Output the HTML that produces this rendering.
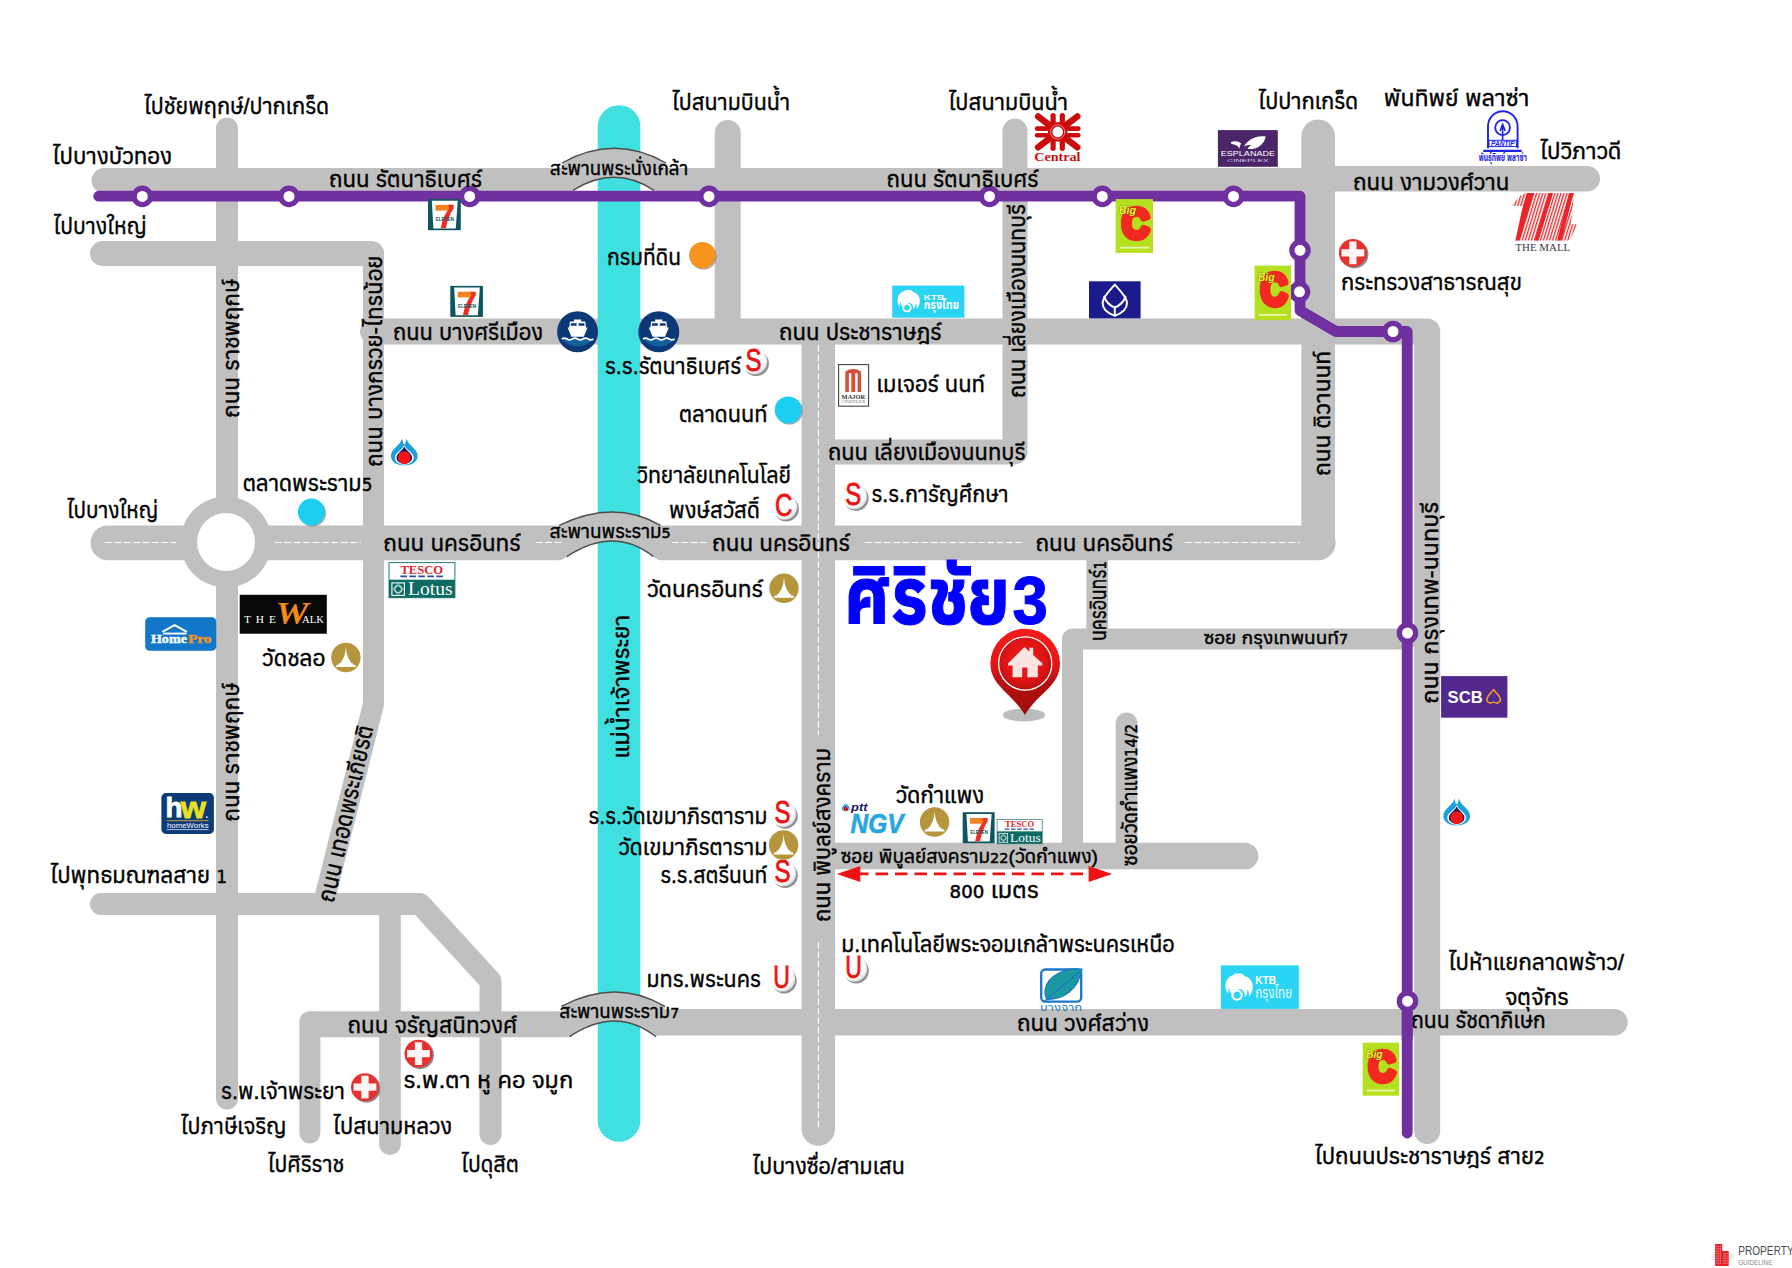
<!DOCTYPE html>
<html lang="th"><head><meta charset="utf-8"><title>ศิริชัย3 map</title>
<style>
html,body{margin:0;padding:0;background:#fff}
svg{display:block}
.t{font-family:"Liberation Sans","Anuphan","Kanit","Prompt","Noto Sans Thai","Loma",sans-serif;}
</style></head><body>
<svg width="1792" height="1268" viewBox="0 0 1792 1268">
<rect width="1792" height="1268" fill="#fff"/>
<g id="roads">
<path d="M104,180.5 H1318" fill="none" stroke="#c0c0c0" stroke-width="25" stroke-linecap="round" stroke-linejoin="round" />
<path d="M1318,178.8 H1587.2" fill="none" stroke="#c0c0c0" stroke-width="25.6" stroke-linecap="round" stroke-linejoin="round" />
<path d="M102.5,253.5 H371.5" fill="none" stroke="#c0c0c0" stroke-width="25" stroke-linecap="round" stroke-linejoin="round" />
<path d="M373.5,253 V704 L326,893" fill="none" stroke="#c0c0c0" stroke-width="21" stroke-linecap="round" stroke-linejoin="round" />
<path d="M227,128.5 V1098.5" fill="none" stroke="#c0c0c0" stroke-width="22" stroke-linecap="round" stroke-linejoin="round" />
<path d="M373,331.5 H1427.2 V1131" fill="none" stroke="#c0c0c0" stroke-width="26" stroke-linecap="round" stroke-linejoin="round" />
<path d="M727.7,133 V331" fill="none" stroke="#c0c0c0" stroke-width="26" stroke-linecap="round" stroke-linejoin="round" />
<path d="M818.3,340 V1129" fill="none" stroke="#c0c0c0" stroke-width="33.4" stroke-linecap="round" stroke-linejoin="round" />
<path d="M1015,131 V452 H835" fill="none" stroke="#c0c0c0" stroke-width="25" stroke-linecap="round" stroke-linejoin="round" />
<path d="M1318.2,136.3 V542.8" fill="none" stroke="#c0c0c0" stroke-width="33.6" stroke-linecap="round" stroke-linejoin="round" />
<path d="M107.9,542.8 H1318.2" fill="none" stroke="#c0c0c0" stroke-width="34.8" stroke-linecap="round" stroke-linejoin="round" />
<circle cx="226" cy="542" r="45.5" fill="#c0c0c0"/>
<circle cx="226" cy="542" r="29" fill="#fff"/>
<path d="M101,904 H420 L490.5,981 V1134" fill="none" stroke="#c0c0c0" stroke-width="22" stroke-linecap="round" stroke-linejoin="round" />
<path d="M390,904 V1144" fill="none" stroke="#c0c0c0" stroke-width="21.6" stroke-linecap="round" stroke-linejoin="round" />
<path d="M309.9,1021.7 V1133" fill="none" stroke="#c0c0c0" stroke-width="21" stroke-linecap="round" stroke-linejoin="round" />
<path d="M309.9,1024.2 H620" fill="none" stroke="#c0c0c0" stroke-width="26" stroke-linecap="butt" stroke-linejoin="round" />
<path d="M615,1022.2 H1614.5" fill="none" stroke="#c0c0c0" stroke-width="26.4" stroke-linecap="butt" stroke-linejoin="round" />
<circle cx="1614.5" cy="1022.2" r="13.2" fill="#c0c0c0"/>
<path d="M1407,639 H1072.5 V856" fill="none" stroke="#c0c0c0" stroke-width="21" stroke-linecap="round" stroke-linejoin="round" />
<path d="M835,856 H1245" fill="none" stroke="#c0c0c0" stroke-width="26.6" stroke-linecap="round" stroke-linejoin="round" />
<path d="M1126.6,723.5 V856" fill="none" stroke="#c0c0c0" stroke-width="21.8" stroke-linecap="round" stroke-linejoin="round" />
<path d="M1097.2,555 V635" fill="none" stroke="#c0c0c0" stroke-width="21.7" stroke-linecap="butt" stroke-linejoin="round" />
</g>
<g stroke="#fff" stroke-width="1.1" stroke-dasharray="6.7 2.7" fill="none">
<path d="M105,542.5 H176"/>
<path d="M275,542.5 H361"/>
<path d="M536,542.5 H562"/>
<path d="M672,542.5 H707"/>
<path d="M865,542.5 H1024"/>
<path d="M1185,542.5 H1300"/>
<path d="M818.4,345 V735"/>
<path d="M818.4,942 V1128"/>
</g>
<path d="M561,194 Q569,193.5 573,190.3 Q614.5,164.3 654,190.3 Q658,193.5 666,194 Z" fill="#fff"/>
<path d="M554.8,561.2 Q562.8,560.7 566.8,556.6 Q614.1,525.4 653.4,556.6 Q657.4,560.7 665.4,561.2 Z" fill="#fff"/>
<path d="M557.5,1037.7 Q565.5,1037.2 569.5,1036.7 Q615.9,1005.3 656,1036.7 Q660,1037.2 668,1037.7 Z" fill="#fff"/>
<path d="M619,126.5 V1120.5" fill="none" stroke="#40dfe0" stroke-width="42.6" stroke-linecap="round" stroke-linejoin="round" />
<path d="M562,163 Q614.5,133.60000000000002 666,163 L654,190.3 Q614.5,164.3 573,190.3 Z" fill="#c0c0c0"/>
<path d="M562,163 Q614.5,133.60000000000002 666,163" fill="none" stroke="#4d4d4d" stroke-width="1.4"/>
<path d="M573,190.3 Q614.5,164.3 654,190.3" fill="none" stroke="#4d4d4d" stroke-width="1.4"/>
<path d="M559.2,525.4 Q614.1,498.6 660.5,525.4 L653.4,556.6 Q614.1,525.4 566.8,556.6 Z" fill="#c0c0c0"/>
<path d="M559.2,525.4 Q614.1,498.6 660.5,525.4" fill="none" stroke="#4d4d4d" stroke-width="1.4"/>
<path d="M566.8,556.6 Q614.1,525.4 653.4,556.6" fill="none" stroke="#4d4d4d" stroke-width="1.4"/>
<path d="M561.4,1006.4 Q615.9,977.6 665,1006.4 L656,1036.7 Q615.9,1005.3 569.5,1036.7 Z" fill="#c0c0c0"/>
<path d="M561.4,1006.4 Q615.9,977.6 665,1006.4" fill="none" stroke="#4d4d4d" stroke-width="1.4"/>
<path d="M569.5,1036.7 Q615.9,1005.3 656,1036.7" fill="none" stroke="#4d4d4d" stroke-width="1.4"/>
<path d="M98.7,196.2 H1300 V310.5 L1336,331.5 H1407.2 V1133" fill="none" stroke="#7030a0" stroke-width="10.8" stroke-linecap="round" stroke-linejoin="round" />
<circle cx="142.3" cy="196.4" r="8.15" fill="#fff" stroke="#7030a0" stroke-width="5.3"/>
<circle cx="289" cy="196.4" r="8.15" fill="#fff" stroke="#7030a0" stroke-width="5.3"/>
<circle cx="469.7" cy="196.4" r="8.15" fill="#fff" stroke="#7030a0" stroke-width="5.3"/>
<circle cx="709" cy="196.4" r="8.15" fill="#fff" stroke="#7030a0" stroke-width="5.3"/>
<circle cx="989.5" cy="196.4" r="8.15" fill="#fff" stroke="#7030a0" stroke-width="5.3"/>
<circle cx="1102.3" cy="196.4" r="8.15" fill="#fff" stroke="#7030a0" stroke-width="5.3"/>
<circle cx="1233.5" cy="196.4" r="8.15" fill="#fff" stroke="#7030a0" stroke-width="5.3"/>
<circle cx="1300" cy="250.3" r="8.15" fill="#fff" stroke="#7030a0" stroke-width="5.3"/>
<circle cx="1299.5" cy="291.8" r="8.15" fill="#fff" stroke="#7030a0" stroke-width="5.3"/>
<circle cx="1393" cy="331.5" r="8.15" fill="#fff" stroke="#7030a0" stroke-width="5.3"/>
<circle cx="1407.5" cy="633" r="8.15" fill="#fff" stroke="#7030a0" stroke-width="5.3"/>
<circle cx="1407.5" cy="1001.2" r="8.15" fill="#fff" stroke="#7030a0" stroke-width="5.3"/>
<g id="labels">
<text class="t" x="144" y="113.5" font-size="22.9" fill="#000" font-weight="400" textLength="185" lengthAdjust="spacingAndGlyphs" stroke="#000" stroke-width=".5">ไปชัยพฤกษ์/ปากเกร็ด</text>
<text class="t" x="52.5" y="163.5" font-size="22.9" fill="#000" font-weight="400" textLength="119.5" lengthAdjust="spacingAndGlyphs" stroke="#000" stroke-width=".5">ไปบางบัวทอง</text>
<text class="t" x="53.5" y="234" font-size="22.9" fill="#000" font-weight="400" textLength="93" lengthAdjust="spacingAndGlyphs" stroke="#000" stroke-width=".5">ไปบางใหญ่</text>
<text class="t" x="329" y="187.3" font-size="22.9" fill="#000" font-weight="400" textLength="153" lengthAdjust="spacingAndGlyphs" stroke="#000" stroke-width=".5">ถนน รัตนาธิเบศร์</text>
<text class="t" x="393" y="339.5" font-size="22.9" fill="#000" font-weight="400" textLength="150" lengthAdjust="spacingAndGlyphs" stroke="#000" stroke-width=".5">ถนน บางศรีเมือง</text>
<text class="t" x="672" y="109.5" font-size="22.9" fill="#000" font-weight="400" textLength="118" lengthAdjust="spacingAndGlyphs" stroke="#000" stroke-width=".5">ไปสนามบินน้ำ</text>
<text class="t" x="948.5" y="109.5" font-size="22.9" fill="#000" font-weight="400" textLength="119.5" lengthAdjust="spacingAndGlyphs" stroke="#000" stroke-width=".5">ไปสนามบินน้ำ</text>
<text class="t" x="886.5" y="187.3" font-size="22.9" fill="#000" font-weight="400" textLength="152" lengthAdjust="spacingAndGlyphs" stroke="#000" stroke-width=".5">ถนน รัตนาธิเบศร์</text>
<text class="t" x="607" y="265" font-size="22.9" fill="#000" font-weight="400" textLength="74" lengthAdjust="spacingAndGlyphs" stroke="#000" stroke-width=".5">กรมที่ดิน</text>
<text class="t" x="779" y="339.5" font-size="22.9" fill="#000" font-weight="400" textLength="162.5" lengthAdjust="spacingAndGlyphs" stroke="#000" stroke-width=".5">ถนน ประชาราษฎร์</text>
<text class="t" x="605" y="374" font-size="22.9" fill="#000" font-weight="400" textLength="136" lengthAdjust="spacingAndGlyphs" stroke="#000" stroke-width=".5">ร.ร.รัตนาธิเบศร์</text>
<text class="t" x="876.5" y="391.5" font-size="22.9" fill="#000" font-weight="400" textLength="108.5" lengthAdjust="spacingAndGlyphs" stroke="#000" stroke-width=".5">เมเจอร์ นนท์</text>
<text class="t" x="679" y="421.5" font-size="22.9" fill="#000" font-weight="400" textLength="88.5" lengthAdjust="spacingAndGlyphs" stroke="#000" stroke-width=".5">ตลาดนนท์</text>
<text class="t" x="828" y="460" font-size="22.9" fill="#000" font-weight="400" textLength="197.5" lengthAdjust="spacingAndGlyphs" stroke="#000" stroke-width=".5">ถนน เลี่ยงเมืองนนทบุรี</text>
<text class="t" x="637" y="483" font-size="22.9" fill="#000" font-weight="400" textLength="154" lengthAdjust="spacingAndGlyphs" stroke="#000" stroke-width=".5">วิทยาลัยเทคโนโลยี</text>
<text class="t" x="669" y="517.5" font-size="22.9" fill="#000" font-weight="400" textLength="91" lengthAdjust="spacingAndGlyphs" stroke="#000" stroke-width=".5">พงษ์สวัสดิ์</text>
<text class="t" x="871.5" y="502" font-size="22.9" fill="#000" font-weight="400" textLength="137" lengthAdjust="spacingAndGlyphs" stroke="#000" stroke-width=".5">ร.ร.การัญศึกษา</text>
<text class="t" x="712" y="551.2" font-size="22.9" fill="#000" font-weight="400" textLength="138" lengthAdjust="spacingAndGlyphs" stroke="#000" stroke-width=".5">ถนน นครอินทร์</text>
<text class="t" x="383.3" y="551.2" font-size="22.9" fill="#000" font-weight="400" textLength="137.3" lengthAdjust="spacingAndGlyphs" stroke="#000" stroke-width=".5">ถนน นครอินทร์</text>
<text class="t" x="1035.4" y="551.2" font-size="22.9" fill="#000" font-weight="400" textLength="137.4" lengthAdjust="spacingAndGlyphs" stroke="#000" stroke-width=".5">ถนน นครอินทร์</text>
<text class="t" x="647" y="597.2" font-size="22.9" fill="#000" font-weight="400" textLength="116" lengthAdjust="spacingAndGlyphs" stroke="#000" stroke-width=".5">วัดนครอินทร์</text>
<text class="t" x="895.8" y="802.7" font-size="22.9" fill="#000" font-weight="400" textLength="88.4" lengthAdjust="spacingAndGlyphs" stroke="#000" stroke-width=".5">วัดกำแพง</text>
<text class="t" x="588.5" y="824.3" font-size="22.9" fill="#000" font-weight="400" textLength="179" lengthAdjust="spacingAndGlyphs" stroke="#000" stroke-width=".5">ร.ร.วัดเขมาภิรตาราม</text>
<text class="t" x="618.6" y="855.2" font-size="22.9" fill="#000" font-weight="400" textLength="149" lengthAdjust="spacingAndGlyphs" stroke="#000" stroke-width=".5">วัดเขมาภิรตาราม</text>
<text class="t" x="660.4" y="883" font-size="22.9" fill="#000" font-weight="400" textLength="107" lengthAdjust="spacingAndGlyphs" stroke="#000" stroke-width=".5">ร.ร.สตรีนนท์</text>
<text class="t" x="949.6" y="897.5" font-size="22.9" fill="#000" font-weight="400" textLength="89.3" lengthAdjust="spacingAndGlyphs" stroke="#000" stroke-width=".5"><tspan font-family="DejaVu Sans,sans-serif" font-size="0.76em">800</tspan> เมตร</text>
<text class="t" x="841.2" y="952.2" font-size="22.9" fill="#000" font-weight="400" textLength="333.4" lengthAdjust="spacingAndGlyphs" stroke="#000" stroke-width=".5">ม.เทคโนโลยีพระจอมเกล้าพระนครเหนือ</text>
<text class="t" x="646.4" y="986.7" font-size="22.9" fill="#000" font-weight="400" textLength="114.5" lengthAdjust="spacingAndGlyphs" stroke="#000" stroke-width=".5">มทร.พระนคร</text>
<text class="t" x="1017" y="1030.8" font-size="22.9" fill="#000" font-weight="400" textLength="132" lengthAdjust="spacingAndGlyphs" stroke="#000" stroke-width=".5">ถนน วงศ์สว่าง</text>
<text class="t" x="752.5" y="1174.2" font-size="22.9" fill="#000" font-weight="400" textLength="152.3" lengthAdjust="spacingAndGlyphs" stroke="#000" stroke-width=".5">ไปบางซื่อ/สามเสน</text>
<text class="t" x="1258.3" y="109" font-size="22.9" fill="#000" font-weight="400" textLength="100" lengthAdjust="spacingAndGlyphs" stroke="#000" stroke-width=".5">ไปปากเกร็ด</text>
<text class="t" x="1383.8" y="105.5" font-size="22.9" fill="#000" font-weight="400" textLength="145.6" lengthAdjust="spacingAndGlyphs" stroke="#000" stroke-width=".5">พันทิพย์ พลาซ่า</text>
<text class="t" x="1540" y="159.3" font-size="22.9" fill="#000" font-weight="400" textLength="81.4" lengthAdjust="spacingAndGlyphs" stroke="#000" stroke-width=".5">ไปวิภาวดี</text>
<text class="t" x="1353" y="190.3" font-size="22.9" fill="#000" font-weight="400" textLength="156.4" lengthAdjust="spacingAndGlyphs" stroke="#000" stroke-width=".5">ถนน งามวงศ์วาน</text>
<text class="t" x="1341" y="289.8" font-size="22.9" fill="#000" font-weight="400" textLength="181" lengthAdjust="spacingAndGlyphs" stroke="#000" stroke-width=".5">กระทรวงสาธารณสุข</text>
<text class="t" x="1448.6" y="970" font-size="22.9" fill="#000" font-weight="400" textLength="175.4" lengthAdjust="spacingAndGlyphs" stroke="#000" stroke-width=".5">ไปห้าแยกลาดพร้าว/</text>
<text class="t" x="1505" y="1005" font-size="22.9" fill="#000" font-weight="400" textLength="63.7" lengthAdjust="spacingAndGlyphs" stroke="#000" stroke-width=".5">จตุจักร</text>
<text class="t" x="1411" y="1028" font-size="22.9" fill="#000" font-weight="400" textLength="134.7" lengthAdjust="spacingAndGlyphs" stroke="#000" stroke-width=".5">ถนน รัชดาภิเษก</text>
<text class="t" x="1314.7" y="1164" font-size="22.9" fill="#000" font-weight="400" textLength="230" lengthAdjust="spacingAndGlyphs" stroke="#000" stroke-width=".5">ไปถนนประชาราษฎร์ สาย<tspan font-family="DejaVu Sans,sans-serif" font-size="0.76em">2</tspan></text>
<text class="t" x="50.2" y="883" font-size="22.9" fill="#000" font-weight="400" textLength="176.8" lengthAdjust="spacingAndGlyphs" stroke="#000" stroke-width=".5">ไปพุทธมณฑลสาย <tspan font-family="DejaVu Sans,sans-serif" font-size="0.76em">1</tspan></text>
<text class="t" x="347.5" y="1032.6" font-size="22.9" fill="#000" font-weight="400" textLength="169.7" lengthAdjust="spacingAndGlyphs" stroke="#000" stroke-width=".5">ถนน จรัญสนิทวงศ์</text>
<text class="t" x="221" y="1098.5" font-size="22.9" fill="#000" font-weight="400" textLength="123.8" lengthAdjust="spacingAndGlyphs" stroke="#000" stroke-width=".5">ร.พ.เจ้าพระยา</text>
<text class="t" x="403.4" y="1087.8" font-size="22.9" fill="#000" font-weight="400" textLength="169.8" lengthAdjust="spacingAndGlyphs" stroke="#000" stroke-width=".5">ร.พ.ตา หู คอ จมูก</text>
<text class="t" x="180.8" y="1134" font-size="22.9" fill="#000" font-weight="400" textLength="105.4" lengthAdjust="spacingAndGlyphs" stroke="#000" stroke-width=".5">ไปภาษีเจริญ</text>
<text class="t" x="333.1" y="1134" font-size="22.9" fill="#000" font-weight="400" textLength="119" lengthAdjust="spacingAndGlyphs" stroke="#000" stroke-width=".5">ไปสนามหลวง</text>
<text class="t" x="267.8" y="1172.2" font-size="22.9" fill="#000" font-weight="400" textLength="76.4" lengthAdjust="spacingAndGlyphs" stroke="#000" stroke-width=".5">ไปศิริราช</text>
<text class="t" x="461.3" y="1172.2" font-size="22.9" fill="#000" font-weight="400" textLength="57.6" lengthAdjust="spacingAndGlyphs" stroke="#000" stroke-width=".5">ไปดุสิต</text>
<text class="t" x="242.7" y="491.2" font-size="22.9" fill="#000" font-weight="400" textLength="129.6" lengthAdjust="spacingAndGlyphs" stroke="#000" stroke-width=".5">ตลาดพระราม<tspan font-family="DejaVu Sans,sans-serif" font-size="0.76em">5</tspan></text>
<text class="t" x="67" y="518.3" font-size="22.9" fill="#000" font-weight="400" textLength="91" lengthAdjust="spacingAndGlyphs" stroke="#000" stroke-width=".5">ไปบางใหญ่</text>
<text class="t" x="262.1" y="666" font-size="22.9" fill="#000" font-weight="400" textLength="63.3" lengthAdjust="spacingAndGlyphs" stroke="#000" stroke-width=".5">วัดชลอ</text>
<text class="t" x="549.8" y="174.6" font-size="19.3" fill="#000" font-weight="400" textLength="138.4" lengthAdjust="spacingAndGlyphs" stroke="#000" stroke-width=".5">สะพานพระนั่งเกล้า</text>
<text class="t" x="549.4" y="538.3" font-size="19.3" fill="#000" font-weight="400" textLength="121.4" lengthAdjust="spacingAndGlyphs" stroke="#000" stroke-width=".5">สะพานพระราม<tspan font-family="DejaVu Sans,sans-serif" font-size="0.76em">5</tspan></text>
<text class="t" x="559.2" y="1018.4" font-size="19.3" fill="#000" font-weight="400" textLength="120.1" lengthAdjust="spacingAndGlyphs" stroke="#000" stroke-width=".5">สะพานพระราม<tspan font-family="DejaVu Sans,sans-serif" font-size="0.76em">7</tspan></text>
<text class="t" x="840.7" y="863.2" font-size="18.5" fill="#000" font-weight="400" textLength="257.2" lengthAdjust="spacingAndGlyphs" stroke="#000" stroke-width=".5">ซอย พิบูลย์สงคราม<tspan font-family="DejaVu Sans,sans-serif" font-size="0.76em">22</tspan>(วัดกำแพง)</text>
<text class="t" x="1203.7" y="643.8" font-size="17.5" fill="#000" font-weight="400" textLength="144.5" lengthAdjust="spacingAndGlyphs" stroke="#000" stroke-width=".5">ซอย กรุงเทพนนท์<tspan font-family="DejaVu Sans,sans-serif" font-size="0.76em">7</tspan></text>
<text class="t" transform="translate(239,418) rotate(-90)" font-size="22.9" fill="#000" font-weight="400" textLength="139" lengthAdjust="spacingAndGlyphs" stroke="#000" stroke-width=".5">ถนน ราชพฤกษ์</text>
<text class="t" transform="translate(381.5,467) rotate(-90)" font-size="22.9" fill="#000" font-weight="400" textLength="211.5" lengthAdjust="spacingAndGlyphs" stroke="#000" stroke-width=".5">ถนน บางกรวย-ไทรน้อย</text>
<text class="t" transform="translate(1025.4,398) rotate(-90)" font-size="22.9" fill="#000" font-weight="400" textLength="194" lengthAdjust="spacingAndGlyphs" stroke="#000" stroke-width=".5">ถนน เลี่ยงเมืองนนทบุรี</text>
<text class="t" transform="translate(1105.6,641) rotate(-90)" font-size="22" fill="#000" font-weight="400" textLength="80" lengthAdjust="spacingAndGlyphs" stroke="#000" stroke-width=".5">นครอินทร์<tspan font-family="DejaVu Sans,sans-serif" font-size="0.76em">1</tspan></text>
<text class="t" transform="translate(629.4,758.4) rotate(-90)" font-size="22.9" fill="#000" font-weight="400" textLength="143.6" lengthAdjust="spacingAndGlyphs" stroke="#000" stroke-width=".5">แม่น้ำเจ้าพระยา</text>
<text class="t" transform="translate(829.5,922) rotate(-90)" font-size="22.9" fill="#000" font-weight="400" textLength="174" lengthAdjust="spacingAndGlyphs" stroke="#000" stroke-width=".5">ถนน พิบูลย์สงคราม</text>
<text class="t" transform="translate(1136.5,866) rotate(-90)" font-size="20" fill="#000" font-weight="400" textLength="142" lengthAdjust="spacingAndGlyphs" stroke="#000" stroke-width=".5">ซอยวัดกำแพง<tspan font-family="DejaVu Sans,sans-serif" font-size="0.76em">14/2</tspan></text>
<text class="t" transform="translate(1330,476) rotate(-90)" font-size="22.9" fill="#000" font-weight="400" textLength="125" lengthAdjust="spacingAndGlyphs" stroke="#000" stroke-width=".5">ถนน ติวานนท์</text>
<text class="t" transform="translate(1438.4,703.8) rotate(-90)" font-size="22.9" fill="#000" font-weight="400" textLength="202" lengthAdjust="spacingAndGlyphs" stroke="#000" stroke-width=".5">ถนน กรุงเทพ-นนทบุรี</text>
<text class="t" transform="translate(239.4,821.7) rotate(-90)" font-size="22.9" fill="#000" font-weight="400" textLength="139" lengthAdjust="spacingAndGlyphs" stroke="#000" stroke-width=".5">ถนน ราชพฤกษ์</text>
<text class="t" transform="translate(333.6,903.4) rotate(-77.3)" font-size="22.9" fill="#000" font-weight="400" textLength="180.5" lengthAdjust="spacingAndGlyphs" stroke="#000" stroke-width=".5">ถนน เทอดพระเกียรติ</text>
<text class="t" font-weight="700" fill="#0000ff" stroke="#0000ff" stroke-width="1.1" font-size="76"><tspan x="844.5" y="623.8" textLength="165.5" lengthAdjust="spacingAndGlyphs">ศิริชัย</tspan><tspan x="1012.4" y="623.8" font-size="69" textLength="35.4" lengthAdjust="spacingAndGlyphs">3</tspan></text>
</g>
<path d="M1407.2,1012 V1040" fill="none" stroke="#7030a0" stroke-width="10.8" stroke-linecap="butt" stroke-linejoin="round" />
<defs>
<radialGradient id="gw" cx="40%" cy="40%" r="65%"><stop offset="0" stop-color="#fff"/><stop offset=".75" stop-color="#fff"/><stop offset="1" stop-color="#d0d0d0"/></radialGradient>
<radialGradient id="gpin" cx="50%" cy="45%" r="55%"><stop offset="0" stop-color="#f01b1b"/><stop offset=".7" stop-color="#e01414"/><stop offset="1" stop-color="#b80f10"/></radialGradient>
<linearGradient id="gpin2" x1="0" y1="0" x2="0" y2="1"><stop offset="0" stop-color="#f41c1c"/><stop offset=".45" stop-color="#e31616"/><stop offset=".62" stop-color="#b50f10"/><stop offset="1" stop-color="#a00c0c"/></linearGradient>
<pattern id="mall" width="2.9" height="10" patternUnits="userSpaceOnUse" patternTransform="rotate(17)"><rect width="1.3" height="10" fill="#e8262a"/></pattern>
<clipPath id="mallclip"><path d="M1525.5,193.1 H1574.1 L1571,224.3 H1577.3 L1569.7,240.5 H1515.4 L1523,206 H1511.6 L1519.8,195.9Z"/></clipPath>
</defs>
<g id="icons">
<circle cx="703.5" cy="256.4" r="13.2" fill="#8a8a8a" opacity=".7"/><circle cx="702.3" cy="255.2" r="13.2" fill="#f7941d"/>
<circle cx="789.4000000000001" cy="411.09999999999997" r="13.5" fill="#8a8a8a" opacity=".7"/><circle cx="788.2" cy="409.9" r="13.5" fill="#1ccff2"/>
<circle cx="312.59999999999997" cy="513.2" r="13.5" fill="#8a8a8a" opacity=".7"/><circle cx="311.4" cy="512" r="13.5" fill="#1ccff2"/>
<circle cx="756.3000000000001" cy="363.5" r="12.6" fill="#8f8f8f"/><circle cx="754.7" cy="361.7" r="12.6" fill="url(#gw)"/>
<text x="753.6" y="370.5" text-anchor="middle" font-family="'Liberation Sans',sans-serif" font-size="30.5" fill="#ee1111" stroke="#ee1111" stroke-width=".8" textLength="16" lengthAdjust="spacingAndGlyphs">S</text>
<circle cx="786.3000000000001" cy="508.90000000000003" r="12.6" fill="#8f8f8f"/><circle cx="784.7" cy="507.1" r="12.6" fill="url(#gw)"/>
<text x="783.6" y="515.9" text-anchor="middle" font-family="'Liberation Sans',sans-serif" font-size="30.5" fill="#ee1111" stroke="#ee1111" stroke-width=".8" textLength="17.4" lengthAdjust="spacingAndGlyphs">C</text>
<circle cx="856.0" cy="498.40000000000003" r="12.6" fill="#8f8f8f"/><circle cx="854.4" cy="496.6" r="12.6" fill="url(#gw)"/>
<text x="853.3" y="505.40000000000003" text-anchor="middle" font-family="'Liberation Sans',sans-serif" font-size="30.5" fill="#ee1111" stroke="#ee1111" stroke-width=".8" textLength="16" lengthAdjust="spacingAndGlyphs">S</text>
<circle cx="785.2" cy="816.0999999999999" r="12.6" fill="#8f8f8f"/><circle cx="783.6" cy="814.3" r="12.6" fill="url(#gw)"/>
<text x="782.5" y="823.0999999999999" text-anchor="middle" font-family="'Liberation Sans',sans-serif" font-size="30.5" fill="#ee1111" stroke="#ee1111" stroke-width=".8" textLength="16" lengthAdjust="spacingAndGlyphs">S</text>
<circle cx="785.2" cy="875.4" r="12.6" fill="#8f8f8f"/><circle cx="783.6" cy="873.6" r="12.6" fill="url(#gw)"/>
<text x="782.5" y="882.4" text-anchor="middle" font-family="'Liberation Sans',sans-serif" font-size="30.5" fill="#ee1111" stroke="#ee1111" stroke-width=".8" textLength="16" lengthAdjust="spacingAndGlyphs">S</text>
<circle cx="784.2" cy="980.8" r="12.6" fill="#8f8f8f"/><circle cx="782.6" cy="979" r="12.6" fill="url(#gw)"/>
<text x="781.5" y="987.8" text-anchor="middle" font-family="'Liberation Sans',sans-serif" font-size="30.5" fill="#ee1111" stroke="#ee1111" stroke-width=".8" textLength="16.6" lengthAdjust="spacingAndGlyphs">U</text>
<circle cx="856.2" cy="970.8" r="12.6" fill="#8f8f8f"/><circle cx="854.6" cy="969" r="12.6" fill="url(#gw)"/>
<text x="853.5" y="977.8" text-anchor="middle" font-family="'Liberation Sans',sans-serif" font-size="30.5" fill="#ee1111" stroke="#ee1111" stroke-width=".8" textLength="16.6" lengthAdjust="spacingAndGlyphs">U</text>
<circle cx="1354.4" cy="254.4" r="14" fill="#8a8a8a"/><circle cx="1352.9" cy="252.9" r="14" fill="#e8302f"/>
<path d="M1341.5,249.3 h7.8 v-7.8 h7.2 v7.8 h7.8 v7.2 h-7.8 v7.8 h-7.2 v-7.8 h-7.8 z" fill="#fff5f5"/>
<circle cx="420.0" cy="1055.2" r="14" fill="#8a8a8a"/><circle cx="418.5" cy="1053.7" r="14" fill="#e8302f"/>
<path d="M407.1,1050.1000000000001 h7.8 v-7.8 h7.2 v7.8 h7.8 v7.2 h-7.8 v7.8 h-7.2 v-7.8 h-7.8 z" fill="#fff5f5"/>
<circle cx="366.5" cy="1088.7" r="14" fill="#8a8a8a"/><circle cx="365" cy="1087.2" r="14" fill="#e8302f"/>
<path d="M353.6,1083.6000000000001 h7.8 v-7.8 h7.2 v7.8 h7.8 v7.2 h-7.8 v7.8 h-7.2 v-7.8 h-7.8 z" fill="#fff5f5"/>
<circle cx="345.9" cy="657.5" r="14.7" fill="#b5963c"/>
<path d="M345.9,646.9 l.6,5 l.9,3.6 l1.3,3.2 l1.9,3 l.3,1.3 h1.6 l.5,1.7 h2 l1.1,2.3 h-20.4 l1.1,-2.3 h2 l.5,-1.7 h1.6 l.3,-1.3 l1.9,-3 l1.3,-3.2 l.9,-3.6z" fill="#fff"/>
<circle cx="784" cy="588.3" r="14.7" fill="#b5963c"/>
<path d="M784,577.6999999999999 l.6,5 l.9,3.6 l1.3,3.2 l1.9,3 l.3,1.3 h1.6 l.5,1.7 h2 l1.1,2.3 h-20.4 l1.1,-2.3 h2 l.5,-1.7 h1.6 l.3,-1.3 l1.9,-3 l1.3,-3.2 l.9,-3.6z" fill="#fff"/>
<circle cx="783.6" cy="845" r="14.7" fill="#b5963c"/>
<path d="M783.6,834.4 l.6,5 l.9,3.6 l1.3,3.2 l1.9,3 l.3,1.3 h1.6 l.5,1.7 h2 l1.1,2.3 h-20.4 l1.1,-2.3 h2 l.5,-1.7 h1.6 l.3,-1.3 l1.9,-3 l1.3,-3.2 l.9,-3.6z" fill="#fff"/>
<circle cx="934.6" cy="822" r="14.7" fill="#b5963c"/>
<path d="M934.6,811.4 l.6,5 l.9,3.6 l1.3,3.2 l1.9,3 l.3,1.3 h1.6 l.5,1.7 h2 l1.1,2.3 h-20.4 l1.1,-2.3 h2 l.5,-1.7 h1.6 l.3,-1.3 l1.9,-3 l1.3,-3.2 l.9,-3.6z" fill="#fff"/>
<g transform="translate(577.6,331.8)">
<circle r="20.5" fill="#0c3878"/>
<path d="M-15.8,7.2 q2.6,-1.6 5.2,0 t5.3,0 t5.3,0 t5.3,0 t5.3,0 t5.2,0 A20.5,20.5 0 0 1 -15.8,7.2z" fill="#10609c"/>
<path d="M-15.8,7.2 q2.6,-1.6 5.2,0 t5.3,0 t5.3,0 t5.3,0 t5.3,0 t5.2,0" fill="none" stroke="#fff" stroke-width="1.7"/>
<path d="M-3.6,-12.4 h7.2 v2 h4 l.8,6.2 h1.6 l-3.8,9.2 h-12.4 l-3.8,-9.2 h1.6 l.8,-6.2 h4z" fill="#fff"/>
<path d="M-6.6,-8.6 h5.6 v2.6 h-6z M1,-8.6 h5.6 l.4,2.6 h-6z" fill="#0c3878"/>
</g>
<g transform="translate(658.8,331.8)">
<circle r="20.5" fill="#0c3878"/>
<path d="M-15.8,7.2 q2.6,-1.6 5.2,0 t5.3,0 t5.3,0 t5.3,0 t5.3,0 t5.2,0 A20.5,20.5 0 0 1 -15.8,7.2z" fill="#10609c"/>
<path d="M-15.8,7.2 q2.6,-1.6 5.2,0 t5.3,0 t5.3,0 t5.3,0 t5.3,0 t5.2,0" fill="none" stroke="#fff" stroke-width="1.7"/>
<path d="M-3.6,-12.4 h7.2 v2 h4 l.8,6.2 h1.6 l-3.8,9.2 h-12.4 l-3.8,-9.2 h1.6 l.8,-6.2 h4z" fill="#fff"/>
<path d="M-6.6,-8.6 h5.6 v2.6 h-6z M1,-8.6 h5.6 l.4,2.6 h-6z" fill="#0c3878"/>
</g>
<g transform="translate(428,199) scale(1.0123456790123457,1.0064516129032257)">
<rect width="32.4" height="31" fill="#0e5560"/>
<path d="M3.8,1.7 H29.4 L27.4,29.4 H5.3Z" fill="#fff"/>
<path d="M7.4,5.8 H22 V11.5 H7.4Z" fill="#f58220"/>
<path d="M20,5.8 H25.4 L25.2,9.5 Q20,17 17.6,29 H12.6 Q15,16 21,9.5Z" fill="#ee2e24"/>
<text x="16.6" y="22.3" text-anchor="middle" font-family="'Liberation Sans',sans-serif" font-weight="700" font-size="5.6" fill="#0e5560" textLength="18" lengthAdjust="spacingAndGlyphs">ELEVEN</text>
</g>
<g transform="translate(450.3,285.9) scale(1.0061728395061729,1.0)">
<rect width="32.4" height="31" fill="#0e5560"/>
<path d="M3.8,1.7 H29.4 L27.4,29.4 H5.3Z" fill="#fff"/>
<path d="M7.4,5.8 H22 V11.5 H7.4Z" fill="#f58220"/>
<path d="M20,5.8 H25.4 L25.2,9.5 Q20,17 17.6,29 H12.6 Q15,16 21,9.5Z" fill="#ee2e24"/>
<text x="16.6" y="22.3" text-anchor="middle" font-family="'Liberation Sans',sans-serif" font-weight="700" font-size="5.6" fill="#0e5560" textLength="18" lengthAdjust="spacingAndGlyphs">ELEVEN</text>
</g>
<g transform="translate(962.7,812.2) scale(0.9845679012345679,1.0)">
<rect width="32.4" height="31" fill="#0e5560"/>
<path d="M3.8,1.7 H29.4 L27.4,29.4 H5.3Z" fill="#fff"/>
<path d="M7.4,5.8 H22 V11.5 H7.4Z" fill="#f58220"/>
<path d="M20,5.8 H25.4 L25.2,9.5 Q20,17 17.6,29 H12.6 Q15,16 21,9.5Z" fill="#ee2e24"/>
<text x="16.6" y="22.3" text-anchor="middle" font-family="'Liberation Sans',sans-serif" font-weight="700" font-size="5.6" fill="#0e5560" textLength="18" lengthAdjust="spacingAndGlyphs">ELEVEN</text>
</g>
<g transform="translate(404.3,453) scale(1)">
<path d="M-2.3,-14.6 C-3.2,-8 -13.4,-4.5 -13.4,3 C-13.4,9 -7.5,12.3 0,12.3 C7.5,12.3 13.4,9 13.4,3 C13.4,-4.5 3.2,-8 2.3,-14.6 L.9,-9 H-.9Z" fill="#1ba0dd"/>
<path d="M0,-8.2 C-1.5,-3 -9.4,-.5 -9.4,4.6 C-9.4,9.4 -5,11.7 0,11.7 C5,11.7 9.4,9.4 9.4,4.6 C9.4,-.5 1.5,-3 0,-8.2Z" fill="#fff"/>
<path d="M0,-6.8 C-1.2,-2.5 -7.8,0 -7.8,4.6 C-7.8,8.6 -4.2,10.8 0,10.8 C4.2,10.8 7.8,8.6 7.8,4.6 C7.8,0 1.2,-2.5 0,-6.8Z" fill="#1a1460"/>
<circle cx="0" cy="4.6" r="6.4" fill="#f01616"/>
</g>
<g transform="translate(1456.7,813) scale(1)">
<path d="M-2.3,-14.6 C-3.2,-8 -13.4,-4.5 -13.4,3 C-13.4,9 -7.5,12.3 0,12.3 C7.5,12.3 13.4,9 13.4,3 C13.4,-4.5 3.2,-8 2.3,-14.6 L.9,-9 H-.9Z" fill="#1ba0dd"/>
<path d="M0,-8.2 C-1.5,-3 -9.4,-.5 -9.4,4.6 C-9.4,9.4 -5,11.7 0,11.7 C5,11.7 9.4,9.4 9.4,4.6 C9.4,-.5 1.5,-3 0,-8.2Z" fill="#fff"/>
<path d="M0,-6.8 C-1.2,-2.5 -7.8,0 -7.8,4.6 C-7.8,8.6 -4.2,10.8 0,10.8 C4.2,10.8 7.8,8.6 7.8,4.6 C7.8,0 1.2,-2.5 0,-6.8Z" fill="#1a1460"/>
<circle cx="0" cy="4.6" r="6.4" fill="#f01616"/>
</g>
<rect x="1115.6" y="199.1" width="37.4" height="53.8" fill="#b5e01f"/>
<text x="1135.609" y="237.83599999999998" text-anchor="middle" font-family="'Liberation Sans',sans-serif" font-weight="700" font-size="43.04" fill="#f02a20" stroke="#f02a20" stroke-width="6.4" stroke-linejoin="round" textLength="26.927999999999997" lengthAdjust="spacingAndGlyphs">C</text>
<text x="1118.8" y="214.433" font-family="'Liberation Sans',sans-serif" font-weight="700" font-style="italic" font-size="10.222" fill="#f4ee2a" stroke="#4a5a10" stroke-width=".6" paint-order="stroke" textLength="17.204" lengthAdjust="spacingAndGlyphs">Big</text>
<rect x="1119.6" y="246.713" width="29.4" height="1.883" fill="#e9f5a8"/>
<rect x="1254.6" y="265.6" width="36.4" height="54.6" fill="#b5e01f"/>
<text x="1274.0739999999998" y="304.91200000000003" text-anchor="middle" font-family="'Liberation Sans',sans-serif" font-weight="700" font-size="43.68000000000001" fill="#f02a20" stroke="#f02a20" stroke-width="6.4" stroke-linejoin="round" textLength="26.208" lengthAdjust="spacingAndGlyphs">C</text>
<text x="1257.8" y="281.161" font-family="'Liberation Sans',sans-serif" font-weight="700" font-style="italic" font-size="10.374" fill="#f4ee2a" stroke="#4a5a10" stroke-width=".6" paint-order="stroke" textLength="16.744" lengthAdjust="spacingAndGlyphs">Big</text>
<rect x="1258.6" y="313.92100000000005" width="28.4" height="1.9110000000000003" fill="#e9f5a8"/>
<rect x="1362.7" y="1042.7" width="36.4" height="53" fill="#b5e01f"/>
<text x="1382.174" y="1080.8600000000001" text-anchor="middle" font-family="'Liberation Sans',sans-serif" font-weight="700" font-size="42.400000000000006" fill="#f02a20" stroke="#f02a20" stroke-width="6.4" stroke-linejoin="round" textLength="26.208" lengthAdjust="spacingAndGlyphs">C</text>
<text x="1365.9" y="1057.805" font-family="'Liberation Sans',sans-serif" font-weight="700" font-style="italic" font-size="10.07" fill="#f4ee2a" stroke="#4a5a10" stroke-width=".6" paint-order="stroke" textLength="16.744" lengthAdjust="spacingAndGlyphs">Big</text>
<rect x="1366.7" y="1089.605" width="28.4" height="1.8550000000000002" fill="#e9f5a8"/>
<rect x="892.2" y="285.6" width="72.2" height="32.1" fill="#2ad4f2"/>
<g transform="translate(908.5,301.5) scale(1.0)" fill="#fff">
<path d="M-1,-11.5 c3,-.6 5,.6 5.6,2.2 c3,.2 6,3 6.6,6.8 c.6,4 -.8,7.6 -3,10 c.4,-2.2 0,-4.4 -1.2,-6 c.2,2.4 -.6,4.8 -2.2,6.4 c.3,-2 -.2,-4 -1.6,-5.4 c-1.4,-1.3 -3.6,-1.5 -5.2,-.6 c-1.8,1 -2.6,3 -2.2,5 c-2.4,-1.4 -3.8,-4 -3.6,-7 c-1,1.6 -1.2,3.6 -.6,5.4 c-2.2,-2.2 -3.2,-5.6 -2.4,-9 c.8,-3.4 3.4,-6 6.4,-6.6 c.6,-.8 1.8,-1.2 3.4,-1.2z"/>
<path d="M-1.6,1.6 a4.6,4.6 0 1 0 .1,0 m0,1.6 a3,3 0 1 1 -.1,0z" fill-rule="evenodd"/>
</g>
<text x="923.8" y="299.7" font-family="'Liberation Sans',sans-serif" font-weight="700" font-size="7.7" fill="#fff" textLength="20.2" lengthAdjust="spacingAndGlyphs">KTB</text>
<text class="t" x="923.8" y="309" font-weight="700" font-size="11" fill="#fff" textLength="35.2" lengthAdjust="spacingAndGlyphs">กรุงไทย</text>
<rect x="1220.9" y="965.4" width="77.9" height="43.5" fill="#2ad4f2"/>
<g transform="translate(1238.9,987.6) scale(1.22)" fill="#fff">
<path d="M-1,-11.5 c3,-.6 5,.6 5.6,2.2 c3,.2 6,3 6.6,6.8 c.6,4 -.8,7.6 -3,10 c.4,-2.2 0,-4.4 -1.2,-6 c.2,2.4 -.6,4.8 -2.2,6.4 c.3,-2 -.2,-4 -1.6,-5.4 c-1.4,-1.3 -3.6,-1.5 -5.2,-.6 c-1.8,1 -2.6,3 -2.2,5 c-2.4,-1.4 -3.8,-4 -3.6,-7 c-1,1.6 -1.2,3.6 -.6,5.4 c-2.2,-2.2 -3.2,-5.6 -2.4,-9 c.8,-3.4 3.4,-6 6.4,-6.6 c.6,-.8 1.8,-1.2 3.4,-1.2z"/>
<path d="M-1.6,1.6 a4.6,4.6 0 1 0 .1,0 m0,1.6 a3,3 0 1 1 -.1,0z" fill-rule="evenodd"/>
</g>
<text x="1255.2" y="983.8" font-family="'Liberation Sans',sans-serif" font-weight="700" font-size="11" fill="#fff" textLength="21" lengthAdjust="spacingAndGlyphs">KTB</text>
<text class="t" x="1255.2" y="997.7" font-weight="400" font-size="14.5" fill="#fff" textLength="36.8" lengthAdjust="spacingAndGlyphs">กรุงไทย</text>
<rect x="1089" y="281.3" width="51.6" height="37.1" fill="#1a1a8c"/>
<g transform="translate(1114.8,300)" fill="none" stroke="#fff" stroke-width="2" stroke-linejoin="round" stroke-linecap="round">
<path d="M0,-15.4 C4.5,-10 12.2,-3.5 12.2,3 C12.2,9.5 5.5,13.8 0,15.8 C-5.5,13.8 -12.2,9.5 -12.2,3 C-12.2,-3.5 -4.5,-10 0,-15.4Z"/>
<path d="M0,15 V7.5 M0,7.5 C-5,5.5 -9,1.5 -10.6,-3.4 M0,7.5 C5,5.5 9,1.5 10.6,-3.4"/></g>
<g transform="translate(1057.7,131.9)" stroke="#cc0c0c" stroke-linecap="round" fill="none">
<path d="M8,6.5 L19.6,15.4" stroke-width="6.4"/>
<path d="M11,3.3 H20.6" stroke-width="4.6"/>
<path d="M4.6,9.5 V16.4" stroke-width="5.2"/>
<path d="M8,-6.5 L19.6,-15.4" stroke-width="6.4"/>
<path d="M11,-3.3 H20.6" stroke-width="4.6"/>
<path d="M4.6,-9.5 V-16.4" stroke-width="5.2"/>
<path d="M-8,6.5 L-19.6,15.4" stroke-width="6.4"/>
<path d="M-11,3.3 H-20.6" stroke-width="4.6"/>
<path d="M-4.6,9.5 V16.4" stroke-width="5.2"/>
<path d="M-8,-6.5 L-19.6,-15.4" stroke-width="6.4"/>
<path d="M-11,-3.3 H-20.6" stroke-width="4.6"/>
<path d="M-4.6,-9.5 V-16.4" stroke-width="5.2"/>
<circle r="7.6" stroke-width="4.6"/><circle r="7.2" stroke="#fff" stroke-width=".5"/></g>
<text x="1057.4" y="160.9" text-anchor="middle" font-family="'Liberation Serif',serif" font-weight="700" font-size="13.4" fill="#cc0c0c" textLength="46.2" lengthAdjust="spacingAndGlyphs">Central</text>
<rect x="1217.9" y="130.1" width="59.9" height="36.7" fill="#4a2568"/>
<path d="M1230.6,142.5 c3,-2 8,-1.5 10.5,1 c-1,1.6 -1.6,3.4 -1.6,5.4 c-1.2,-2.6 -3.6,-4.4 -6.6,-4.6 c-1,-.1 -1.8,-.8 -2.3,-1.8z M1265.8,136.5 c-9,-1.6 -18,2.6 -22,10.4 c2.2,-1.8 5,-2.4 7.4,-1.6 c-1.6,.8 -2.8,2 -3.6,3.6 c4,.6 8,-.2 11.4,-2.4 c3.8,-2.4 6,-6 6.8,-10z" fill="#fff"/>
<text x="1247.9" y="156.4" text-anchor="middle" font-family="'Liberation Sans',sans-serif" font-size="6.4" fill="#fff" textLength="54.5" lengthAdjust="spacingAndGlyphs">ESPLANADE</text>
<text x="1247.9" y="161.7" text-anchor="middle" font-family="'Liberation Sans',sans-serif" font-size="4.2" fill="#d9cfe6" textLength="41.7" lengthAdjust="spacingAndGlyphs">CINEPLEX</text>
<g fill="none" stroke="#1c22e6">
<path d="M1488,148.2 V126.6 a14.8,15.4 0 0 1 29.6,0 V148.2" stroke-width="1.9"/>
<circle cx="1502.6" cy="127.6" r="7.4" stroke-width="1.8"/>
<path d="M1502.6,124.5 V140.2 M1500,131 l2.6,-6.5 l2.6,6.5" stroke-width="1.6"/>
<rect x="1489" y="140.3" width="27.6" height="6.3" stroke-width="1"/>
<path d="M1483.3,150.9 H1521.7" stroke-width="2.2"/></g>
<text x="1502.8" y="145.6" text-anchor="middle" font-family="'Liberation Sans',sans-serif" font-weight="700" font-style="italic" font-size="6.4" fill="#1c22e6" textLength="23.6" lengthAdjust="spacingAndGlyphs">PANTIP</text>
<text class="t" x="1478.8" y="160.6" font-weight="700" font-size="9.4" fill="#1c22e6" textLength="48" lengthAdjust="spacingAndGlyphs">พันธุ์ทิพย์ พลาซ่า</text>
<g clip-path="url(#mallclip)"><rect x="1505" y="190" width="80" height="55" fill="url(#mall)"/>
<path d="M1527,193 h7 l-14.5,48 h-7z M1549,193 h4 l-14.5,48 h-4z M1569,193 h4.5 l-12,48 h-4.5z" fill="#e8262a"/></g>
<text x="1542.8" y="251.4" text-anchor="middle" font-family="'Liberation Serif',serif" font-size="11.4" fill="#3a3a3a" textLength="55" lengthAdjust="spacingAndGlyphs">THE MALL</text>
<rect x="1441.1" y="676.1" width="66.3" height="41.6" fill="#52288c"/>
<text x="1447.6" y="703.2" font-family="'Liberation Sans',sans-serif" font-weight="700" font-size="17.2" fill="#fff" textLength="35.2" lengthAdjust="spacingAndGlyphs">SCB</text>
<path d="M1493.6,689.6 C1491,693.5 1486.4,696 1486.8,700.2 C1487.1,703 1491,703.8 1493.6,702 C1496.2,703.8 1500.1,703 1500.4,700.2 C1500.8,696 1496.2,693.5 1493.6,689.6Z" fill="none" stroke="#f5a623" stroke-width="1.5" stroke-linejoin="round"/>
<rect x="145.2" y="617.2" width="71.1" height="33.6" rx="4.5" fill="#1277c9"/>
<path d="M162.3,631.9 L174.6,625.2 L186.9,631.9" fill="none" stroke="#fff" stroke-width="2"/><path d="M163.2,632.6 h23.3 v1.9 h-23.3z" fill="#fff"/>
<text x="150.9" y="643.2" font-family="'Liberation Serif',serif" font-weight="700" font-size="11.8" fill="#fff" stroke="#fff" stroke-width=".35" textLength="36" lengthAdjust="spacingAndGlyphs">Home</text>
<text x="187.9" y="643.2" font-family="'Liberation Serif',serif" font-weight="700" font-size="11.8" fill="#f7941d" stroke="#f7941d" stroke-width=".35" textLength="23.7" lengthAdjust="spacingAndGlyphs">Pro</text>
<rect x="239.7" y="594.8" width="87.1" height="38.9" fill="#080808"/>
<text x="243.9" y="623.3" font-family="'Liberation Serif',serif" font-size="11.4" fill="#fff" textLength="32" lengthAdjust="spacing">THE</text>
<text x="275.5" y="623.7" font-family="'Liberation Serif',serif" font-style="italic" font-weight="700" font-size="31" fill="#f28a1c" textLength="33" lengthAdjust="spacingAndGlyphs">W</text>
<text x="302" y="623.3" font-family="'Liberation Serif',serif" font-size="11.4" fill="#fff" textLength="21.8" lengthAdjust="spacingAndGlyphs">ALK</text>
<g transform="translate(389,562.6) scale(1.0,1.0)">
<rect width="65.9" height="35.1" fill="#fff" stroke="#2a7a70" stroke-width="1"/>
<rect y="17.1" width="65.9" height="18" fill="#0e6b63"/>
<text x="32.8" y="11.4" text-anchor="middle" font-family="'Liberation Serif',serif" font-weight="700" font-size="11.5" fill="#e0262c" textLength="42.7" lengthAdjust="spacingAndGlyphs">TESCO</text>
<path d="M11.4,13.8 h42.7" stroke="#2b4a9a" stroke-width="1.9" stroke-dasharray="6.5 2.5"/>
<rect x="2.9" y="20.3" width="12.5" height="12.5" fill="none" stroke="#fff" stroke-width="1.1"/><circle cx="9.15" cy="26.55" r="3.4" fill="none" stroke="#fff" stroke-width="1"/><path d="M9.15,21 l5.5,5.55 l-5.5,5.55 l-5.5,-5.55z" fill="none" stroke="#fff" stroke-width=".6"/>
<text x="19" y="32.8" font-family="'Liberation Serif',serif" font-size="18.6" fill="#fff" textLength="44.6" lengthAdjust="spacingAndGlyphs">Lotus</text>
</g>
<g transform="translate(997.1,819.5) scale(0.6843702579666161,0.6923076923076923)">
<rect width="65.9" height="35.1" fill="#fff" stroke="#2a7a70" stroke-width="1"/>
<rect y="17.1" width="65.9" height="18" fill="#0e6b63"/>
<text x="32.8" y="11.4" text-anchor="middle" font-family="'Liberation Serif',serif" font-weight="700" font-size="11.5" fill="#e0262c" textLength="42.7" lengthAdjust="spacingAndGlyphs">TESCO</text>
<path d="M11.4,13.8 h42.7" stroke="#2b4a9a" stroke-width="1.9" stroke-dasharray="6.5 2.5"/>
<rect x="2.9" y="20.3" width="12.5" height="12.5" fill="none" stroke="#fff" stroke-width="1.1"/><circle cx="9.15" cy="26.55" r="3.4" fill="none" stroke="#fff" stroke-width="1"/><path d="M9.15,21 l5.5,5.55 l-5.5,5.55 l-5.5,-5.55z" fill="none" stroke="#fff" stroke-width=".6"/>
<text x="19" y="32.8" font-family="'Liberation Serif',serif" font-size="18.6" fill="#fff" textLength="44.6" lengthAdjust="spacingAndGlyphs">Lotus</text>
</g>
<rect x="161.4" y="793.1" width="52.5" height="40.8" rx="4.5" fill="#0d3a78"/>
<text x="165.6" y="817.4" font-family="'Liberation Sans',sans-serif" font-weight="700" font-size="28" fill="#fff" stroke="#fff" stroke-width=".8" textLength="17" lengthAdjust="spacingAndGlyphs">h</text>
<text x="180.8" y="817.6" font-family="'Liberation Sans',sans-serif" font-weight="700" font-size="29" fill="#e8e020" stroke="#e8e020" stroke-width=".8" textLength="25.2" lengthAdjust="spacingAndGlyphs">w</text>
<rect x="206" y="816.3" width="1.5" height="1.5" fill="#fff"/>
<path d="M166.7,820.7 h41.9" stroke="#e0b030" stroke-width=".9"/><path d="M166.7,829.6 h41.9" stroke="#fff" stroke-width=".7"/>
<text x="187.8" y="828" text-anchor="middle" font-family="'Liberation Sans',sans-serif" font-size="7.2" fill="#fff" textLength="41.6" lengthAdjust="spacingAndGlyphs">homeWorks</text>
<rect x="838.6" y="364.6" width="30" height="41.6" fill="#fff" stroke="#444" stroke-width="1.1"/>
<path d="M845.3,392 V371.4 Q853.2,366.6 861.1,371.4 V392 h-3.5 V373.2 h-2.4 V392 h-3.9 V373.2 h-2.4 V392z" fill="#d4503a"/>
<text x="853.4" y="398.7" text-anchor="middle" font-family="'Liberation Serif',serif" font-weight="700" font-size="6" fill="#333" textLength="23.6" lengthAdjust="spacingAndGlyphs">MAJOR</text>
<text x="853.4" y="403.3" text-anchor="middle" font-family="'Liberation Serif',serif" font-size="3.6" fill="#777" textLength="24" lengthAdjust="spacingAndGlyphs">CINEPLEX</text>
<g transform="translate(845.8,807.6) scale(0.3)">
<path d="M-2.3,-14.6 C-3.2,-8 -13.4,-4.5 -13.4,3 C-13.4,9 -7.5,12.3 0,12.3 C7.5,12.3 13.4,9 13.4,3 C13.4,-4.5 3.2,-8 2.3,-14.6 L.9,-9 H-.9Z" fill="#1ba0dd"/>
<path d="M0,-8.2 C-1.5,-3 -9.4,-.5 -9.4,4.6 C-9.4,9.4 -5,11.7 0,11.7 C5,11.7 9.4,9.4 9.4,4.6 C9.4,-.5 1.5,-3 0,-8.2Z" fill="#fff"/>
<path d="M0,-6.8 C-1.2,-2.5 -7.8,0 -7.8,4.6 C-7.8,8.6 -4.2,10.8 0,10.8 C4.2,10.8 7.8,8.6 7.8,4.6 C7.8,0 1.2,-2.5 0,-6.8Z" fill="#1a1460"/>
<circle cx="0" cy="4.6" r="6.4" fill="#f01616"/>
</g>
<text x="851" y="811.3" font-family="'Liberation Sans',sans-serif" font-style="italic" font-weight="700" font-size="10" fill="#1a1460" textLength="16.5" lengthAdjust="spacingAndGlyphs">ptt</text>
<text x="850.5" y="832.8" font-family="'Liberation Sans',sans-serif" font-style="italic" font-weight="700" font-size="27" fill="#27a6e0" stroke="#27a6e0" stroke-width=".6" textLength="53" lengthAdjust="spacingAndGlyphs">NGV</text>
<rect x="1041.2" y="969.5" width="40" height="32.1" rx="4" fill="#fff" stroke="#1a78c8" stroke-width="2.3"/>
<path d="M1082,969.2 C1066,967.5 1048,975 1045.2,989 C1044.6,993.5 1045.6,997 1047,999.6 C1064,999 1078,990 1082,969.2Z" fill="#1a9aa0" stroke="#1a78c8" stroke-width="1.2"/>
<path d="M1044.5,1001 L1080,971.5" stroke="#1a78c8" stroke-width="1.3" fill="none"/>
<text class="t" x="1040" y="1010.8" font-size="10.5" fill="#1a78c8" textLength="42.3" lengthAdjust="spacingAndGlyphs">บางจาก</text>
<ellipse cx="1024" cy="715" rx="21.3" ry="6.5" fill="#bcbcbc"/>
<path d="M1025,715 C1012,693 990.4,686 990.4,663.5 a34.8,34.8 0 0 1 69.6,0 C1060,686 1038,693 1025,715z" fill="url(#gpin2)"/>
<circle cx="1025.2" cy="663.5" r="26.6" fill="url(#gpin)" stroke="#fff" stroke-width="1.3"/>
<path d="M1024.4,647.1 L1029.4,651.6 V647.8 H1033.2 V655 L1042.3,663.3 V665.6 H1037.8 V677.3 H1027.4 V667.6 H1022.2 V677.3 H1012.6 V665.6 H1008.1 V663.3Z" fill="#fde3e1"/>
<path d="M858,873.9 H1092" stroke="#ee1212" stroke-width="2.9" stroke-dasharray="12.5 7" stroke-dashoffset="2" fill="none"/>
<path d="M836.8,873.9 l23.5,-8 v16z M1112.1,873.9 l-23.5,-8 v16z" fill="#ee1212"/>
<ellipse cx="1722.5" cy="1256.8" rx="11.4" ry="6.2" fill="#ececec"/>
<path d="M1715.1,1266 V1244 H1722.3 V1251 H1728.7 V1266z" fill="#e4262b"/>
<path d="M1716.3,1246.4 h4.8 M1716.3,1248.8 h4.8 M1716.3,1251.2 h4.8 M1716.3,1253.6 h4.8 M1716.3,1256 h4.8 M1716.3,1258.4 h4.8 M1716.3,1260.8 h4.8 M1716.3,1263.2 h4.8 M1723.4,1253.6 h4.2 M1723.4,1256 h4.2 M1723.4,1258.4 h4.2 M1723.4,1260.8 h4.2 M1723.4,1263.2 h4.2" stroke="#fff" stroke-width=".7" stroke-dasharray="1.1 .7" opacity=".85"/>
<text x="1738.2" y="1255.3" font-family="'Liberation Sans',sans-serif" font-size="12.2" fill="#4a4d55" textLength="55.5" lengthAdjust="spacingAndGlyphs">PROPERTY</text>
<text x="1738.2" y="1265.4" font-family="'Liberation Sans',sans-serif" font-size="7.5" fill="#8a8a8a" textLength="34.2" lengthAdjust="spacingAndGlyphs">GUIDELINE</text>
</g>
</svg>
</body></html>
